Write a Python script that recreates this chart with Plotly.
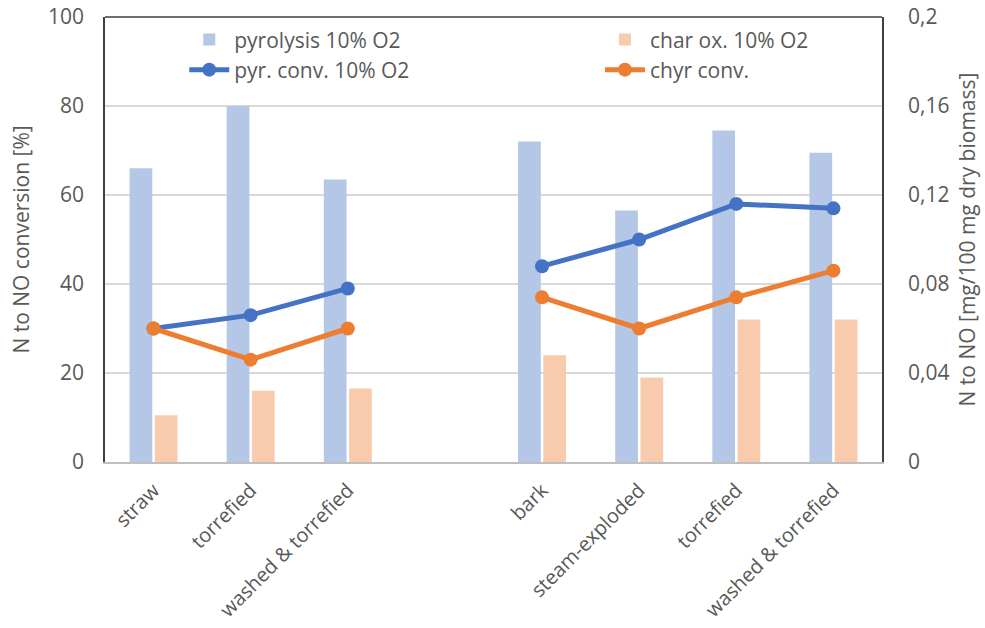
import plotly.graph_objects as go

# Sample labels; index 3 is an empty slot separating the two biomass groups
labels = ["straw", "torrefied", "washed & torrefied", "",
          "bark", "steam-exploded", "torrefied", "washed & torrefied"]
positions = list(range(len(labels)))

# N to NO yield [mg/100 mg dry biomass]
pyrolysis_10 = [0.132, 0.160, 0.127, None, 0.144, 0.113, 0.149, 0.139]
char_ox_10 = [0.021, 0.032, 0.033, None, 0.048, 0.038, 0.064, 0.064]

# N to NO conversion [%]
pyr_conv_10 = [30, 33, 39, None, 44, 50, 58, 57]
chyr_conv = [30, 23, 30, None, 37, 30, 37, 43]

right_ticks = [0, 0.04, 0.08, 0.12, 0.16, 0.2]
right_ticktext = ["0", "0,04", "0,08", "0,12", "0,16", "0,2"]

FONT = "Open Sans"
GREY = "#595959"
FS = 21

fig = go.Figure()

fig.add_trace(go.Bar(
    x=positions, y=pyrolysis_10, name="pyrolysis 10% O2",
    marker=dict(color="#B4C7E7", line=dict(width=0)),
    yaxis="y", legend="legend",
))
fig.add_trace(go.Bar(
    x=positions, y=char_ox_10, name="char ox. 10% O2",
    marker=dict(color="#F8CBAD", line=dict(width=0)),
    yaxis="y", legend="legend2",
))
fig.add_trace(go.Scatter(
    x=positions, y=pyr_conv_10, name="pyr. conv. 10% O2",
    mode="lines+markers", connectgaps=False,
    line=dict(color="#4472C4", width=5),
    marker=dict(color="#4472C4", size=14),
    yaxis="y2", legend="legend",
))
fig.add_trace(go.Scatter(
    x=positions, y=chyr_conv, name="chyr conv.",
    mode="lines+markers", connectgaps=False,
    line=dict(color="#ED7D31", width=5),
    marker=dict(color="#ED7D31", size=14),
    yaxis="y2", legend="legend2",
))

legend_common = dict(
    orientation="v", xanchor="left", yanchor="top",
    bgcolor="rgba(0,0,0,0)", font=dict(family=FONT, size=FS, color=GREY),
    tracegroupgap=0, itemwidth=40,
)

fig.update_layout(
    width=985, height=628,
    margin=dict(l=105, r=103, t=17, b=166, autoexpand=False),
    paper_bgcolor="white", plot_bgcolor="white",
    font=dict(family=FONT, size=FS, color=GREY),
    barmode="group", bargap=0.48, bargroupgap=0.1,
    showlegend=True,
    legend=dict(x=0.102, y=0.995, **legend_common),
    legend2=dict(x=0.637, y=0.995, **legend_common),
    xaxis=dict(
        range=[-0.5, 7.5], tickmode="array", tickvals=positions, ticktext=labels,
        tickangle=-45, showgrid=False, zeroline=False, automargin=False,
        showline=True, linecolor="#BFBFBF", linewidth=1.5,
        ticks="outside", ticklen=7, tickcolor="rgba(0,0,0,0)",
        tickfont=dict(family=FONT, size=20, color=GREY),
    ),
    yaxis=dict(
        side="right", range=[0, 0.2], tickmode="array",
        tickvals=right_ticks, ticktext=right_ticktext, automargin=False,
        showgrid=True, gridcolor="#D9D9D9", gridwidth=1.5, zeroline=False,
        showline=True, linecolor="#404040", linewidth=1.5, mirror=True,
        ticks="", ticklabelstandoff=20,
        tickfont=dict(family=FONT, size=FS, color=GREY),
        title=dict(text="N to NO [mg/100 mg dry biomass]", standoff=12,
                   font=dict(family=FONT, size=FS, color=GREY)),
    ),
    yaxis2=dict(
        side="left", overlaying="y", range=[0, 100], dtick=20, automargin=False,
        showgrid=False, zeroline=False, showline=False,
        ticks="", ticklabelstandoff=20,
        tickfont=dict(family=FONT, size=FS, color=GREY),
        title=dict(text="N to NO conversion [%]", standoff=12,
                   font=dict(family=FONT, size=FS, color=GREY)),
    ),
    shapes=[dict(type="line", xref="paper", yref="paper", x0=0, x1=1, y0=1, y1=1,
                 line=dict(color="#404040", width=1.5))],
)

fig.write_html("out.html")
